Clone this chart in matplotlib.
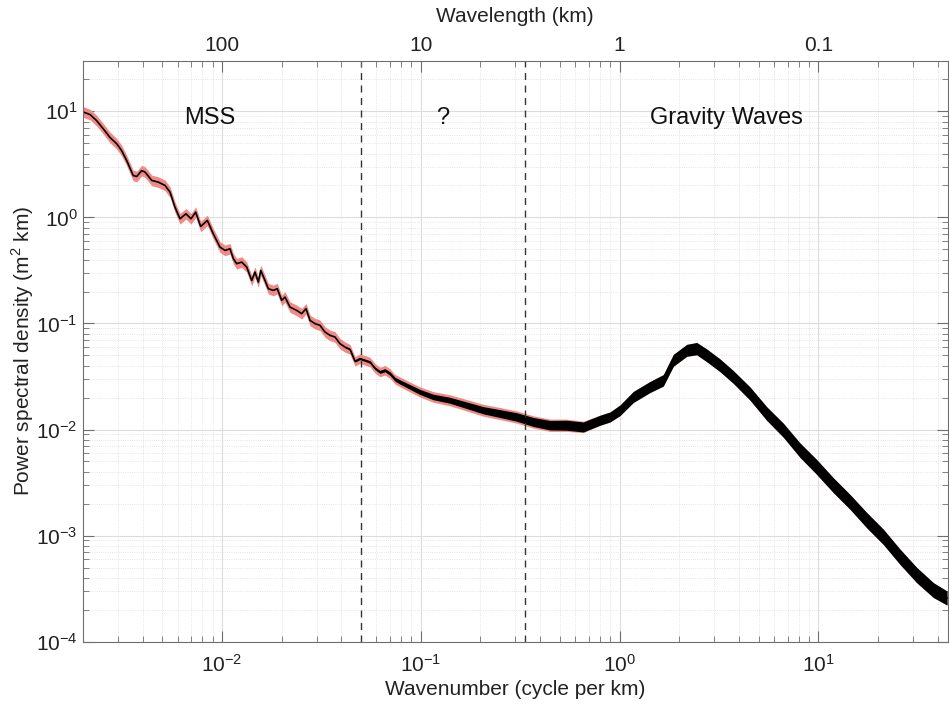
import numpy as np
import matplotlib
matplotlib.use("Agg")
import matplotlib.pyplot as plt

plt.rcParams["font.family"] = ["Liberation Sans", "DejaVu Sans"]
plt.rcParams["mathtext.fontset"] = "custom"
plt.rcParams["mathtext.rm"] = "Liberation Sans"
plt.rcParams["axes.unicode_minus"] = False

# wavenumber (cycle per km) and power spectral density (m^2 km)
wavenumber = [
    0.00200, 0.00218, 0.00235, 0.00254, 0.00274, 0.00297, 0.00314, 0.00333,
    0.00359, 0.00374, 0.00396, 0.00412, 0.00445, 0.00480, 0.00519, 0.00550,
    0.00582, 0.00617, 0.00661, 0.00701, 0.00740, 0.00784, 0.00847, 0.00907,
    0.00981, 0.01039, 0.01101, 0.01144, 0.01190, 0.01261, 0.01336, 0.01415,
    0.01470, 0.01528, 0.01571, 0.01651, 0.01715, 0.01817, 0.01903, 0.02003,
    0.02081, 0.02205, 0.02383, 0.02525, 0.02654, 0.02780, 0.02945, 0.03121,
    0.03306, 0.03503, 0.03712, 0.03934, 0.04168, 0.04416, 0.04680, 0.04958,
    0.05254, 0.05567, 0.05898, 0.06251, 0.06622, 0.07018, 0.07435, 0.07878,
    0.08845, 0.09931, 0.1159, 0.1405, 0.1705, 0.2067, 0.2507, 0.3041,
    0.3687, 0.4472, 0.5426, 0.6577, 0.7980, 0.8958, 1.006, 1.173,
    1.423, 1.661, 1.865, 2.178, 2.444, 2.745, 3.202, 3.735,
    4.531, 5.497, 6.662, 8.08, 9.80, 11.88, 14.42, 17.49,
    21.20, 25.72, 31.20, 37.82, 44.33,
]
psd = [
    9.9, 9.31, 8.17, 6.83, 5.69, 4.93, 4.26, 3.43,
    2.48, 2.43, 2.76, 2.67, 2.23, 2.15, 2.00, 1.73,
    1.25, 0.970, 1.081, 0.970, 1.12, 0.821, 0.935, 0.701,
    0.524, 0.488, 0.506, 0.408, 0.366, 0.379, 0.340, 0.2544,
    0.305, 0.2454, 0.3162, 0.2544, 0.2127, 0.2049, 0.2127, 0.1650,
    0.1773, 0.1427, 0.1328, 0.1237, 0.1379, 0.1069, 0.0996, 0.0960,
    0.0830, 0.0773, 0.0745, 0.0645, 0.0599, 0.0570, 0.0440, 0.0466,
    0.0449, 0.0433, 0.0378, 0.0349, 0.0362, 0.0337, 0.0298, 0.0281,
    0.0252, 0.0226, 0.02028, 0.01887, 0.01694, 0.01520, 0.01415, 0.01314,
    0.01179, 0.01098, 0.01098, 0.01058, 0.01224, 0.01314, 0.01520, 0.02028,
    0.02518, 0.02912, 0.04493, 0.05581, 0.05790, 0.05006, 0.04031, 0.03128,
    0.02183, 0.01415, 0.00985, 0.00639, 0.00444, 0.00299, 0.00208, 0.00140,
    0.000974, 0.000632, 0.000425, 0.000307, 0.000258,
]
# half-width (decades) of the red confidence band
ci_width = [0.050] * 52 + [
    0.048, 0.046, 0.045, 0.045, 0.045, 0.045, 0.045, 0.045, 0.045, 0.045,
    0.045, 0.046, 0.047, 0.048,
    0.050, 0.052, 0.054, 0.056, 0.057, 0.058, 0.058, 0.058, 0.058, 0.054,
    0.048, 0.048, 0.050, 0.052, 0.052, 0.054, 0.056, 0.056, 0.058, 0.060,
    0.060, 0.060, 0.062, 0.064, 0.066, 0.068, 0.070, 0.070, 0.070, 0.072,
    0.072, 0.072, 0.072, 0.070, 0.066,
]
# half-width (decades) of the black noisy band at high wavenumber
noise_width = [0.0] * 52 + [
    0.006, 0.007, 0.008, 0.009, 0.010, 0.011, 0.012, 0.013, 0.014, 0.016,
    0.018, 0.020, 0.022, 0.024,
    0.026, 0.028, 0.031, 0.034, 0.037, 0.040, 0.042, 0.045, 0.047, 0.047,
    0.047, 0.047, 0.050, 0.052, 0.052, 0.054, 0.056, 0.056, 0.058, 0.060,
    0.060, 0.060, 0.062, 0.064, 0.066, 0.068, 0.070, 0.070, 0.070, 0.072,
    0.072, 0.072, 0.072, 0.070, 0.066,
]

region_labels = ["MSS", "?", "Gravity Waves"]
region_x = [0.00873, 0.1296, 3.46]
boundaries = [0.05, 1 / 3]
wavelength_ticks = [0.01, 0.1, 1, 10]
wavelength_labels = ["100", "10", "1", "0.1"]

k = np.array(wavenumber)
p = np.array(psd)
ci = np.array(ci_width)
nw = np.array(noise_width)

fig = plt.figure(figsize=(9.49, 7.08), dpi=100)
ax = fig.add_axes([0.0871, 0.0936, 0.9118, 0.8207])
ax.set_xscale("log")
ax.set_yscale("log")

ax.fill_between(k, p * 10 ** (-ci), p * 10 ** ci, color="#f08a84", lw=0)
mask = nw > 0
ax.fill_between(k[mask], p[mask] * 10 ** (-nw[mask]), p[mask] * 10 ** nw[mask],
                color="black", lw=0)
ax.plot(k, p, color="black", lw=1.2)

for b in boundaries:
    ax.axvline(b, color="#333333", ls=(0, (5, 4)), lw=1.0)

for lab, x in zip(region_labels, region_x):
    ax.text(x, 8.6, lab, ha="center", va="center", fontsize=17, color="#111111")

ax.set_xlim(0.002, 44.8)
ax.set_ylim(1e-4, 30)
ax.grid(which="major", color="#dcdcdc", lw=0.8)
ax.grid(which="minor", color="#dcdcdc", lw=0.6, ls=":")
ax.set_axisbelow(True)
ax.tick_params(which="both", direction="in", top=True, right=True,
               labelsize=15, colors="#6e6e6e", labelcolor="#222222")
ax.tick_params(axis="x", which="both", pad=9)
ax.tick_params(which="major", length=8)
ax.tick_params(which="minor", length=4)
for s in ax.spines.values():
    s.set_color("#6e6e6e")
    s.set_linewidth(0.8)
ax.set_xlabel("Wavenumber (cycle per km)", fontsize=15, color="#222222", labelpad=3)
ax.set_ylabel("Power spectral density (m$^2$ km)", fontsize=15, color="#222222", labelpad=0)

top = ax.twiny()
top.set_xscale("log")
top.set_xlim(ax.get_xlim())
top.set_xticks(wavelength_ticks)
top.set_xticklabels(wavelength_labels)
top.tick_params(which="both", direction="in", labelsize=15, colors="#6e6e6e",
                labelcolor="#222222", pad=4)
top.tick_params(which="major", length=8)
top.tick_params(which="minor", length=4)
top.set_xlabel("Wavelength (km)", fontsize=15, color="#222222", labelpad=10)
for s in top.spines.values():
    s.set_visible(False)

fig.savefig("out.png", dpi=100)
